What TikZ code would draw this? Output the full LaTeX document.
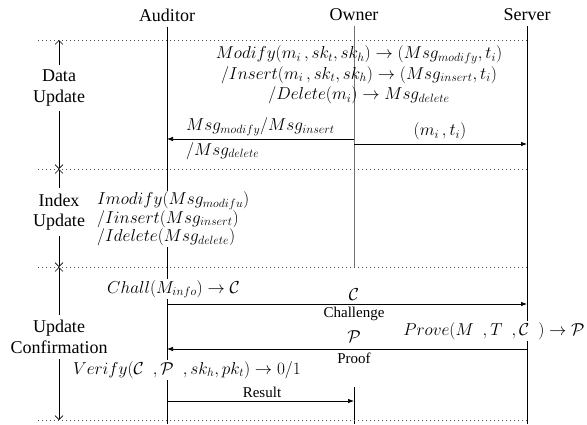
\documentclass[tikz,border=0pt]{standalone}
\usepackage{amsmath}
\usepackage{amssymb}
\usepackage{fontspec}
\setmainfont{Liberation Serif}
\usetikzlibrary{arrows.meta}
\newcommand{\bigText}[0]{\fontsize{18}{20.5}\selectfont}
\newcommand{\tagText}[0]{\fontsize{15}{17}\selectfont}
\newcommand{\gapSp}[0]{\hspace{9pt}}

\begin{document}
\begin{tikzpicture}[x=1pt, y=-1pt]
  \tikzset{
    every node/.style={font=\bigText, inner sep=1pt},
    head/.style={inner sep=5pt},
    life/.style={line width=0.8pt},
    msg/.style={-{Latex[length=6pt,width=4.5pt]}, line width=0.7pt},
    phase/.style={-{Straight Barb[length=4pt,width=8pt]}, line width=0.6pt},
    sepline/.style={dash pattern=on 0.8pt off 3.2pt, line width=0.6pt, black!70},
    lbl/.style={align=center, inner xsep=1pt, inner ysep=5pt},
    tag/.style={font=\tagText}
  }
  \useasboundingbox (0,0) rectangle (587,424);

  % lifelines
  \node[head] (auditor) at (167,15) {Auditor};
  \node[head] (owner) at (354,15) {Owner};
  \node[head] (server) at (527,15) {Server};
  \coordinate (audEnd) at (167,424);
  \coordinate (ownMid) at (354,267);
  \coordinate (ownLow) at (354,387);
  \coordinate (ownEnd) at (354,424);
  \coordinate (srvEnd) at (527,424);
  \draw[life] (auditor) -- (audEnd);
  \draw[life, black!55] (owner) -- (ownMid);
  \draw[life] (ownLow) -- (ownEnd);
  \draw[life] (server) -- (srvEnd);

  % phase separators
  \foreach \y [count=\i] in {40,169,267,420} {
    \coordinate (sepL-\i) at (38,\y);
    \coordinate (sepR-\i) at (527,\y);
    \coordinate (p\i) at (59,\y);
    \draw[sepline] (sepL-\i) -- (sepR-\i);
  }

  % phases
  \node[lbl] (dataLbl) at (59,88) {Data\\Update};
  \node[lbl] (idxLbl) at (59,212) {Index\\Update};
  \node[lbl] (confLbl) at (59,337) {Update\\Confirmation};
  \draw[phase] (dataLbl) -- (p1);
  \draw[phase] (dataLbl) -- (p2);
  \draw[phase] (idxLbl) -- (p2);
  \draw[phase] (idxLbl) -- (p3);
  \draw[phase] (confLbl) -- (p3);
  \draw[phase] (confLbl) -- (p4);

  % data update
  \node[align=center] (updText) at (359,75)
    {$Modify(m_i\,, sk_t, sk_h) \rightarrow (Msg_{modify}, t_i)$\\
     $/Insert(m_i\,, sk_t, sk_h) \rightarrow (Msg_{insert}, t_i)$\\
     $/Delete(m_i) \rightarrow Msg_{delete}$};
  \coordinate (m1o) at (354,139);
  \coordinate (m1a) at (167,139);
  \coordinate (m2o) at (354,144);
  \coordinate (m2s) at (527,144);
  \draw[msg] (m1o) -- (m1a);
  \draw[msg] (m2o) -- (m2s);
  \node[anchor=south west] (msgUp) at (185,137) {$Msg_{modify}/Msg_{insert}$};
  \node[anchor=north west] (msgDown) at (185,141) {$/Msg_{delete}$};
  \node[anchor=south] (pairLbl) at (440,141) {$(m_i\,, t_i)$};

  % index update
  \node[align=left, fill=white, anchor=west] (idxText) at (96,219)
    {$Imodify(Msg_{modifu})$\\[-2pt]
     $/Iinsert(Msg_{insert})$\\[-2pt]
     $/Idelete(Msg_{delete})$};

  % update confirmation
  \node[fill=white, anchor=west] (challText) at (106,289) {$Chall(M_{info}) \rightarrow \mathcal{C}$};
  \coordinate (c1a) at (167,304);
  \coordinate (c1s) at (527,304);
  \draw[msg] (c1a) -- (c1s);
  \node[fill=white, inner sep=3pt] (cLbl) at (354,295) {$\mathcal{C}$};
  \node[tag] (challLbl) at (354,314) {Challenge};
  \node[fill=white] (proveText) at (494,331) {$Prove(M\gapSp,T\gapSp,\mathcal{C}\gapSp) \rightarrow \mathcal{P}$};
  \coordinate (p1s) at (527,349);
  \coordinate (p1a) at (167,349);
  \draw[msg] (p1s) -- (p1a);
  \node (pLbl) at (354,337) {$\mathcal{P}$};
  \node[tag] (proofLbl) at (354,358) {Proof};
  \node[fill=white] (verText) at (187,370) {$Verify(\mathcal{C}\gapSp,\mathcal{P}\gapSp, sk_h, pk_t) \rightarrow 0/1$};
  \coordinate (r1a) at (167,401);
  \coordinate (r1o) at (354,401);
  \draw[msg] (r1a) -- (r1o);
  \node[tag] (resLbl) at (262,392) {Result};
\end{tikzpicture}
\end{document}
